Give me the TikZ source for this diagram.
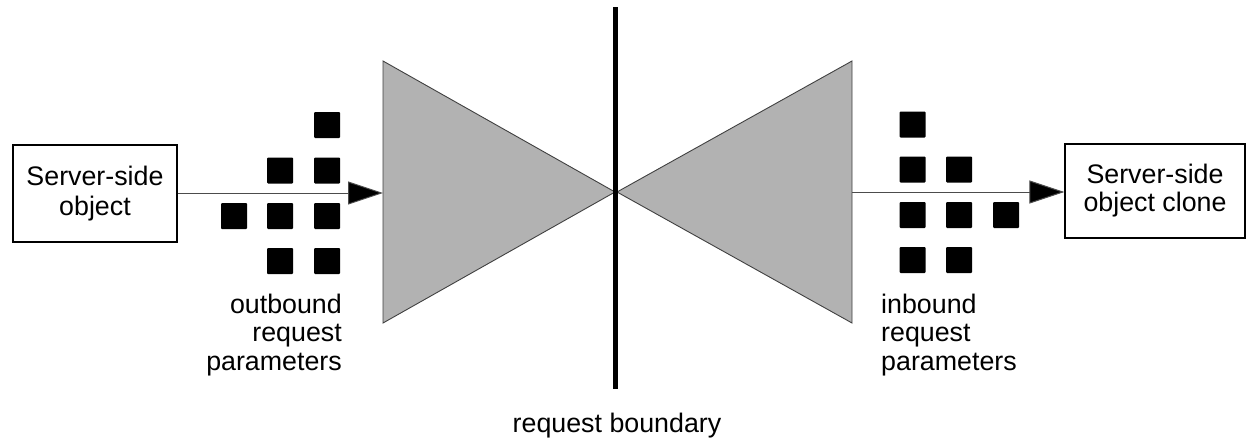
\documentclass[tikz,border=0pt]{standalone}
\usepackage{fontspec}
\setmainfont{Liberation Sans}
\usetikzlibrary{arrows.meta}
\tikzset{
  objbox/.style={draw=black, line width=1.3pt, inner sep=0pt, align=center},
  param/.style={fill=black, draw=none, minimum size=26pt, inner sep=0pt, rounded corners=1pt},
  funnel/.style={fill=black!30, draw=black!75, line width=0.9pt, line join=miter},
  flow/.style={draw=black!70, line width=1pt, -{Triangle[length=35pt, width=23pt, fill=black]}},
  caption/.style={inner sep=0pt, font=\fontsize{26.8}{28.5}\selectfont},
}
\begin{document}
\begin{tikzpicture}[x=1pt, y=-1pt]
  \useasboundingbox (0,0) rectangle (1246,439);

  % funnels on either side of the boundary
  \coordinate (lin) at (383,193);
  \coordinate (rout) at (852,192);
  \draw[funnel] (383,61) -- (615,192) -- (383,323) -- cycle;
  \draw[funnel] (852,61) -- (617,192) -- (852,323) -- cycle;

  % request boundary
  \coordinate (btop) at (615,7);
  \coordinate (bbot) at (615,389);
  \draw[line width=5pt] (btop) -- (bbot);
  \node[caption, anchor=base] (blabel) at (617,432) {request boundary};

  % end points
  \node[objbox, minimum width=164pt, minimum height=97pt,
        font=\fontsize{26.8}{30.5}\selectfont] (src) at (95,193.5) {Server-side\\object};
  \node[objbox, minimum width=180pt, minimum height=94pt,
        font=\fontsize{26.8}{28}\selectfont] (dst) at (1155,191) {Server-side\\object clone};

  % connectors
  \draw[flow] (src.east |- lin) -- (lin);
  \draw[flow] (rout) -- (dst.west |- rout);

  % outbound parameters
  \node[param] (o1) at (327,125) {};
  \node[param] (o2) at (280,170.5) {};
  \node[param] (o3) at (327,170.5) {};
  \node[param] (o4) at (234,216) {};
  \node[param] (o5) at (280,216) {};
  \node[param] (o6) at (327,216) {};
  \node[param] (o7) at (280,261) {};
  \node[param] (o8) at (327,261) {};

  % inbound parameters
  \node[param] (i1) at (912.5,124.5) {};
  \node[param] (i2) at (912.5,169.5) {};
  \node[param] (i3) at (959,169.5) {};
  \node[param] (i4) at (912.5,215) {};
  \node[param] (i5) at (959,215) {};
  \node[param] (i6) at (1006,215) {};
  \node[param] (i7) at (912.5,260) {};
  \node[param] (i8) at (959,260) {};

  % parameter captions (base anchor sits on the last line)
  \node[caption, align=right, anchor=base east] (olabel) at (342,370)
    {outbound\\request\\parameters};
  \node[caption, align=left, anchor=base west] (ilabel) at (881,370)
    {inbound\\request\\parameters};
\end{tikzpicture}
\end{document}
